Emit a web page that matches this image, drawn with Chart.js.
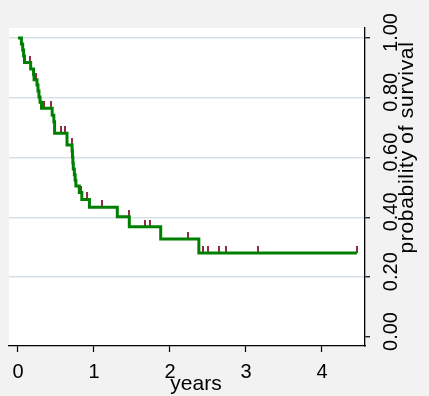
<!DOCTYPE html>
<html>
<head>
<meta charset="utf-8">
<script src="https://cdn.jsdelivr.net/npm/chart.js@4.4.1/dist/chart.umd.min.js"></script>
<style>
  html, body { margin: 0; padding: 0; background: #f2f2f2; }
  canvas { display: block; }
</style>
</head>
<body>
<canvas id="kmChart" width="429" height="396"></canvas>
<script>
// Kaplan-Meier step points: time (years) and survival just after each step
const stepTimes = [0, 0.045, 0.062, 0.074, 0.086, 0.167, 0.205, 0.212, 0.25, 0.263, 0.276, 0.29, 0.31,
    0.45, 0.472, 0.482, 0.645, 0.712, 0.717, 0.722, 0.728, 0.742, 0.752, 0.762, 0.807, 0.84, 0.94,
    1.307, 1.465, 1.878, 2.38, 4.46];
const stepSurv = [1.0, 0.98, 0.96, 0.94, 0.918, 0.896, 0.878, 0.86, 0.843, 0.823, 0.803, 0.785, 0.765,
    0.742, 0.72, 0.681, 0.642, 0.622, 0.602, 0.582, 0.562, 0.543, 0.524, 0.505, 0.483, 0.46, 0.434,
    0.402, 0.369, 0.328, 0.281, 0.281];

// censored observations (tick marks)
const censorTimes = [0.158, 0.233, 0.346, 0.43, 0.478, 0.572, 0.618, 0.707, 0.825, 0.905, 1.105,
    1.458, 1.667, 1.737, 2.24, 2.43, 2.50, 2.65, 2.74, 3.16, 4.46];
const censorSurv = [0.918, 0.86, 0.765, 0.765, 0.72, 0.681, 0.681, 0.642, 0.483, 0.46, 0.434,
    0.402, 0.369, 0.369, 0.328, 0.281, 0.281, 0.281, 0.281, 0.281, 0.281];

const xTicks = [0, 1, 2, 3, 4];
const xLabels = ['0', '1', '2', '3', '4'];
const yTicks = [0, 0.2, 0.4, 0.6, 0.8, 1.0];
const yLabels = ['0.00', '0.20', '0.40', '0.60', '0.80', '1.00'];
const xTitle = 'years';
const yTitle = 'probability of survival';

const lineColor = '#008000';
const censorColor = 'rgb(144, 45, 62)';
const gridColor = 'rgb(214, 224, 232)';
const fontFamily = '"Liberation Sans", Arial, sans-serif';

// small tick drawn above the point
function makeCensorMark() {
    const c = document.createElement('canvas');
    c.width = 2;
    c.height = 14;
    const g = c.getContext('2d');
    g.fillStyle = censorColor;
    g.fillRect(0, 0, 2, 7);
    return c;
}

const curvePoints = stepTimes.map((t, i) => ({ x: t, y: stepSurv[i] }));
const censorPoints = censorTimes.map((t, i) => ({ x: t, y: censorSurv[i] }));

const backgroundPlugin = {
    id: 'backgrounds',
    beforeDraw(chart) {
        const ctx = chart.ctx;
        const a = chart.chartArea;
        ctx.save();
        ctx.fillStyle = '#f2f2f2';
        ctx.fillRect(0, 0, chart.width, chart.height);
        ctx.fillStyle = '#ffffff';
        ctx.fillRect(a.left, a.top, a.right - a.left, a.bottom - a.top);
        ctx.restore();
    }
};

const labelsPlugin = {
    id: 'axisText',
    afterDraw(chart) {
        const ctx = chart.ctx;
        const a = chart.chartArea;
        const xs = chart.scales.x;
        const ys = chart.scales.y;
        ctx.save();
        ctx.fillStyle = '#000';
        ctx.textAlign = 'center';
        ctx.textBaseline = 'alphabetic';

        ctx.font = '20px ' + fontFamily;
        xTicks.forEach((v, i) => {
            ctx.fillText(xLabels[i], xs.getPixelForValue(v), a.bottom + 31.5);
        });

        yTicks.forEach((v, i) => {
            ctx.save();
            ctx.translate(a.right + 31.5, ys.getPixelForValue(v) - 5.5);
            ctx.rotate(-Math.PI / 2);
            ctx.fillText(yLabels[i], 0, 0);
            ctx.restore();
        });

        ctx.font = '21px ' + fontFamily;
        ctx.fillText(xTitle, (a.left + a.right) / 2 + 9, a.bottom + 44);

        ctx.save();
        ctx.translate(a.right + 48, 147.5);
        ctx.rotate(-Math.PI / 2);
        ctx.letterSpacing = '0.7px';
        ctx.fillText(yTitle, 0, 0);
        ctx.restore();

        ctx.restore();
    }
};

new Chart(document.getElementById('kmChart'), {
    type: 'scatter',
    data: {
        datasets: [{
            data: curvePoints,
            showLine: true,
            stepped: true,
            borderColor: lineColor,
            borderWidth: 3,
            pointRadius: 0,
            fill: false
        }, {
            data: censorPoints,
            showLine: false,
            pointStyle: makeCensorMark(),
            pointRadius: 7
        }]
    },
    options: {
        responsive: false,
        animation: false,
        events: [],
        layout: { padding: { left: 9, top: 28, right: 0, bottom: 0 } },
        plugins: {
            legend: { display: false },
            tooltip: { enabled: false }
        },
        scales: {
            x: {
                type: 'linear',
                position: 'bottom',
                min: -0.118,
                max: 4.566,
                afterBuildTicks: s => { s.ticks = xTicks.map(v => ({ value: v })); },
                afterFit: s => { s.height = 50; },
                ticks: { display: false },
                grid: {
                    drawOnChartArea: false,
                    drawTicks: true,
                    tickLength: 6,
                    tickColor: '#000',
                    tickWidth: 1.2
                },
                border: { display: true, color: '#000', width: 1.3 }
            },
            y: {
                type: 'linear',
                position: 'right',
                min: -0.0301,
                max: 1.0334,
                afterBuildTicks: s => { s.ticks = yTicks.map(v => ({ value: v })); },
                afterFit: s => { s.width = 64; },
                ticks: { display: false },
                grid: {
                    color: ctx => (ctx.tick && ctx.tick.value === 0) ? 'rgba(0,0,0,0)' : gridColor,
                    lineWidth: 1.5,
                    drawTicks: true,
                    tickLength: 5,
                    tickColor: '#000',
                    tickWidth: 1.2
                },
                border: { display: true, color: '#000', width: 1.3 }
            }
        }
    },
    plugins: [backgroundPlugin, labelsPlugin]
});
</script>
</body>
</html>
